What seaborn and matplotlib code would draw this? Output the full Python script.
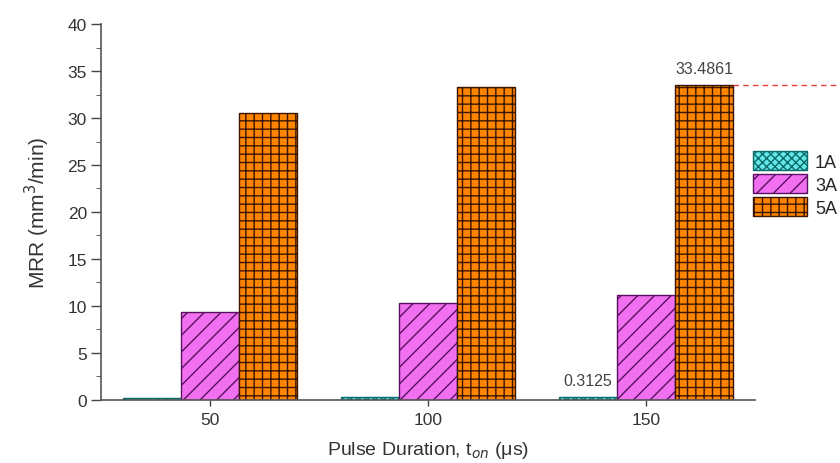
import numpy as np
import pandas as pd
import matplotlib
matplotlib.use("Agg")
import matplotlib.pyplot as plt
import seaborn as sns

# ── Data ────────────────────────────────────────────────────
durations = ["50", "100", "150"]
current_labels = ["1A", "3A", "5A"]
mrr_1a = [0.22, 0.28, 0.3125]
mrr_3a = [9.35, 10.3, 11.2]
mrr_5a = [30.5, 33.3, 33.4861]

fills = ["#66e6e6", "#f070f0", "#ff8400"]
edges = ["#0b6b6b", "#5a1060", "#3a1500"]
hatches = ["xxxx", "//", "++"]

df = pd.DataFrame({
    "duration": durations * 3,
    "current": np.repeat(current_labels, 3),
    "mrr": mrr_1a + mrr_3a + mrr_5a,
})

sns.set_style("ticks")
plt.rcParams["font.family"] = ["Liberation Sans", "DejaVu Sans"]
plt.rcParams["hatch.linewidth"] = 1.0

fig = plt.figure(figsize=(8.4, 4.64), dpi=100)
ax = fig.add_axes([0.120, 0.136, 0.779, 0.810])

sns.barplot(data=df, x="duration", y="mrr", hue="current",
            order=durations, hue_order=current_labels,
            palette=fills, width=0.8, ax=ax, legend=True)

for cont, fc, ec, h in zip(ax.containers, fills, edges, hatches):
    for bar in cont:
        bar.set_facecolor(fc)
        bar.set_edgecolor(ec)
        bar.set_hatch(h)
        bar.set_linewidth(1.0)

ax.set_xlim(-0.5, 2.5)
ax.set_ylim(0, 40)
ax.set_yticks(np.arange(0, 41, 5))
ax.set_yticks(np.arange(0, 40.1, 2.5), minor=True)
ax.tick_params(axis="both", colors="#444444", labelcolor="#333333",
               labelsize=12.5, width=1.0)
ax.tick_params(axis="y", which="major", length=7, pad=3)
ax.tick_params(axis="y", which="minor", length=3.5, color="#444444")
ax.tick_params(axis="x", length=4, pad=5)
sns.despine(ax=ax)
for s in ["left", "bottom"]:
    ax.spines[s].set_color("#555555")
    ax.spines[s].set_linewidth(1.2)

ax.set_ylabel("MRR (mm$^3$/min)", fontsize=15, color="#333333")
ax.yaxis.set_label_coords(-(101 - 52) / 654, 0.5)
ax.set_xlabel("Pulse Duration, t$_{on}$ (μs)", fontsize=14, color="#333333")
ax.xaxis.set_label_coords(0.5, -(451 - 401) / 376)
ax.xaxis.label.set_va("center")

# value labels on the 150 µs group
cont_1a, cont_5a = ax.containers[0], ax.containers[2]
b1 = cont_1a[2]
ax.text(b1.get_x() + b1.get_width() / 2, mrr_1a[2] + 1.0, f"{mrr_1a[2]:.4f}",
        ha="center", va="bottom", fontsize=11.5, color="#444444")
b5 = cont_5a[2]
ax.text(b5.get_x() + b5.get_width() / 2, mrr_5a[2] + 1.0, f"{mrr_5a[2]:.4f}",
        ha="center", va="bottom", fontsize=11.5, color="#444444")
ax.plot([b5.get_x() + b5.get_width(), 3.2], [mrr_5a[2], mrr_5a[2]],
        ls=(0, (4, 3)), color="#e8403a", lw=1.0, clip_on=False)

handles, labels = ax.get_legend_handles_labels()
for hd, fc, ec, h in zip(handles, fills, edges, hatches):
    hd.set_facecolor(fc)
    hd.set_edgecolor(ec)
    hd.set_hatch(h)
ax.legend(handles, labels, loc="upper left",
          bbox_to_anchor=(0.896, 0.672), bbox_transform=fig.transFigure,
          frameon=False, fontsize=13, handlelength=3.0, handleheight=1.25,
          labelspacing=0.18, handletextpad=0.45, borderaxespad=0,
          borderpad=0)

plt.savefig("out.png", dpi=100)
